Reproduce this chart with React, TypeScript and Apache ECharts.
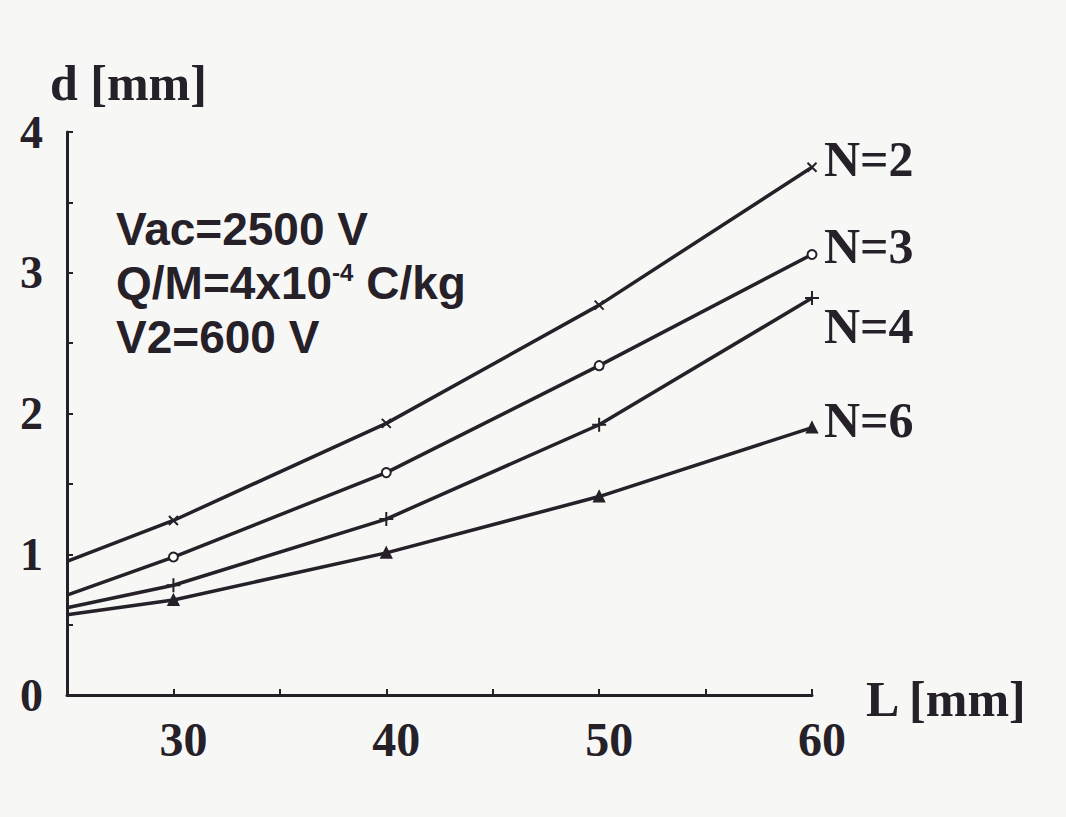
import React, { useEffect, useRef } from "react";
import * as echarts from "echarts";

// Data
const xValues = [25, 30, 40, 50, 60];
const seriesNames = ["N=2", "N=3", "N=4", "N=6"];
const n2 = [0.95, 1.24, 1.93, 2.77, 3.75];
const n3 = [0.71, 0.98, 1.58, 2.34, 3.13];
const n4 = [0.62, 0.78, 1.25, 1.92, 2.82];
const n6 = [0.57, 0.675, 1.01, 1.41, 1.9];
const xTickLabels = [30, 40, 50, 60];
const yTickLabels = [0, 1, 2, 3, 4];
const noteLines = ["Vac=2500 V", "Q/M=4x10{sup|-4} C/kg", "V2=600 V"];

const INK = "#262028";
const SERIF = '"Liberation Serif", "Times New Roman", serif';
const SANS = '"Liberation Sans", Arial, sans-serif';

const symbols = [
  "path://M0,0L10,10M10,0L0,10",
  "emptyCircle",
  "path://M0,5L10,5M5,0L5,10",
  "triangle",
];
const symbolSizes = [9, 9, 14, 10];
const labelOffsets = [
  [0, -8],
  [0, -8],
  [0, 28],
  [0, -8],
];

export default function App() {
  const ref = useRef<HTMLDivElement>(null);
  useEffect(() => {
    if (!ref.current) return;
    const chart = echarts.init(ref.current, null, { renderer: "svg" });
    const all = [n2, n3, n4, n6];
    const series = all.map((vals, i) => ({
      type: "line",
      name: seriesNames[i],
      data: xValues.map((x, j) =>
        j === 0 ? { value: [x, vals[j]], symbol: "none" } : [x, vals[j]]
      ),
      symbol: symbols[i],
      symbolSize: symbolSizes[i],
      lineStyle: { color: INK, width: 3.5 },
      itemStyle: { color: INK, borderColor: INK, borderWidth: 2 },
      endLabel: {
        show: true,
        formatter: seriesNames[i],
        color: INK,
        fontFamily: SERIF,
        fontWeight: "bold",
        fontSize: 50,
        distance: 12,
        offset: labelOffsets[i],
      },
      z: 3,
    }));
    chart.setOption({
      animation: false,
      backgroundColor: "#f7f7f6",
      grid: { left: 67, top: 132, width: 745, height: 563 },
      xAxis: {
        type: "value",
        min: 25,
        max: 60,
        interval: 5,
        axisLine: { show: true, lineStyle: { color: INK, width: 3 } },
        axisTick: { show: true, inside: true, length: 6, lineStyle: { color: INK, width: 2 } },
        splitLine: { show: false },
        axisLabel: {
          margin: 20,
          color: INK,
          fontFamily: SERIF,
          fontWeight: "bold",
          fontSize: 48,
          padding: [0, 0, 0, 20],
          formatter: (v: number) => (xTickLabels.includes(v) ? String(v) : ""),
        },
      },
      yAxis: {
        type: "value",
        min: 0,
        max: 4,
        interval: 0.5,
        axisLine: { show: true, lineStyle: { color: INK, width: 3 } },
        axisTick: { show: true, inside: true, length: 6, lineStyle: { color: INK, width: 2 } },
        splitLine: { show: false },
        axisLabel: {
          margin: 24,
          color: INK,
          fontFamily: SERIF,
          fontWeight: "bold",
          fontSize: 46,
          formatter: (v: number) => (yTickLabels.includes(v) ? String(v) : ""),
        },
      },
      graphic: [
        {
          type: "text",
          left: 50,
          top: 58,
          style: { text: "d [mm]", fill: INK, font: `bold 50px ${SERIF}` },
        },
        {
          type: "text",
          left: 866,
          top: 674,
          style: { text: "L [mm]", fill: INK, font: `bold 50px ${SERIF}` },
        },
        ...noteLines.map((t, i) => ({
          type: "text",
          left: 116,
          top: 206 + i * 54,
          style: {
            text: t,
            fill: INK,
            font: `bold 46px ${SANS}`,
            rich: {
              sup: {
                fontSize: 24,
                fontWeight: "bold",
                fontFamily: SANS,
                fill: INK,
                verticalAlign: "top",
                padding: [0, 0, 22, 0],
              },
            },
          },
        })),
      ],
      series,
    });
    return () => chart.dispose();
  }, []);
  return (
    <div
      ref={ref}
      style={{ position: "fixed", left: 0, top: 0, width: 1066, height: 817 }}
    />
  );
}
